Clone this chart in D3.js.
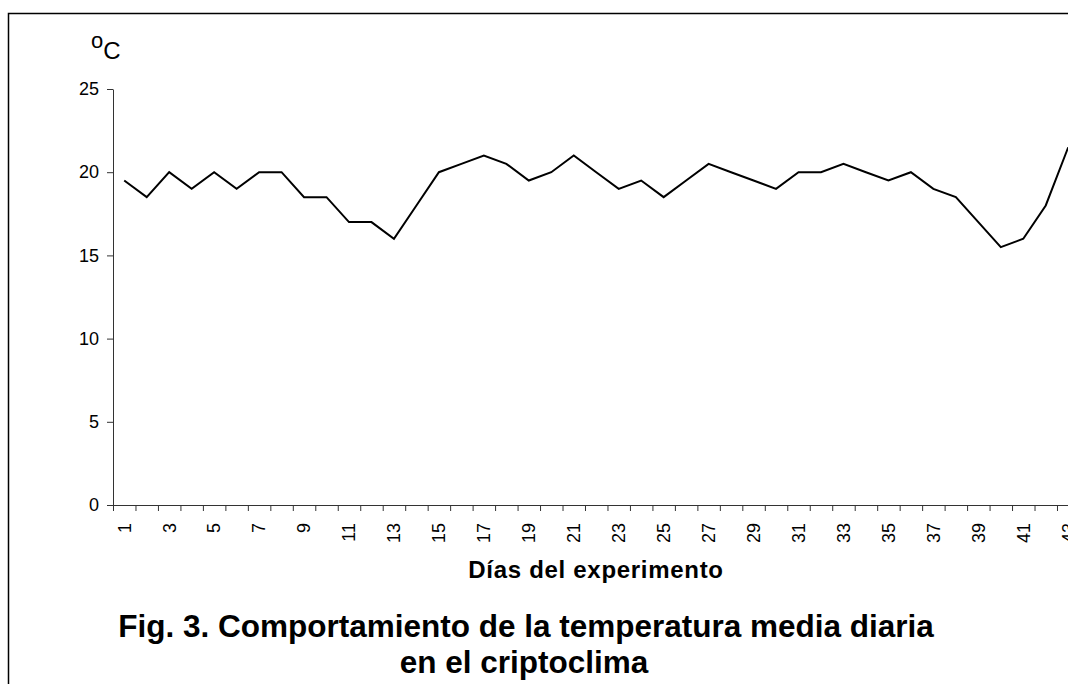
<!DOCTYPE html>
<html>
<head>
<meta charset="utf-8">
<script src="https://cdn.jsdelivr.net/npm/d3@7"></script>
<style>
  body { margin: 0; background: #fff; }
  svg { display: block; font-family: "Liberation Sans", Arial, sans-serif; }
</style>
</head>
<body>
<svg id="chart" width="1068" height="684"></svg>
<script>
// daily mean temperature, days 1..43
var days = d3.range(1, 44);
var temps = [19.5, 18.5, 20, 19, 20, 19, 20, 20, 18.5, 18.5,
             17, 17, 16, 18, 20, 20.5, 21, 20.5, 19.5, 20,
             21, 20, 19, 19.5, 18.5, 19.5, 20.5, 20, 19.5, 19,
             20, 20, 20.5, 20, 19.5, 20, 19, 18.5, 17, 15.5,
             16, 18, 21.5];
var yTicks = [0, 5, 10, 15, 20, 25];

var svg = d3.select('#chart');

// outer frame (runs off the right/bottom edge like the original)
svg.append('rect')
  .attr('x', 8.5).attr('y', 13.5)
  .attr('width', 1200).attr('height', 800)
  .attr('fill', 'none').attr('stroke', '#000').attr('stroke-width', 1.5);

var plotL = 113, plotR = 113 + 43 * 22.476, plotT = 89, plotB = 505;

var x = d3.scaleBand().domain(days).range([plotL, plotR]).padding(0);
var xb = d3.scaleLinear().domain([0, 43]).range([plotL, plotR]);
var y = d3.scaleLinear().domain([0, 25]).range([plotB, plotT]);

// y axis
var gy = svg.append('g')
  .attr('transform', 'translate(' + plotL + ',0)')
  .call(d3.axisLeft(y).tickValues(yTicks).tickSize(6).tickPadding(8).tickSizeOuter(0));
gy.select('.domain').attr('stroke', '#333');
gy.selectAll('.tick line').attr('stroke', '#333');
gy.selectAll('.tick text').attr('font-size', 18).attr('fill', '#000')
  .attr('font-family', '"Liberation Sans", Arial, sans-serif');

// x axis: tick marks between categories
var gxt = svg.append('g')
  .attr('transform', 'translate(0,' + plotB + ')')
  .call(d3.axisBottom(xb).tickValues(d3.range(0, 44)).tickSize(6).tickFormat('').tickSizeOuter(0));
gxt.select('.domain').attr('stroke', '#333');
gxt.selectAll('.tick line').attr('stroke', '#333');

// x axis labels (odd days, rotated)
var gx = svg.append('g')
  .attr('transform', 'translate(0,' + plotB + ')')
  .call(d3.axisBottom(x).tickSize(0).tickFormat(function(d) { return d % 2 ? d : ''; }));
gx.select('.domain').remove();
gx.selectAll('.tick text')
  .attr('font-size', 18).attr('fill', '#000')
  .attr('font-family', '"Liberation Sans", Arial, sans-serif')
  .attr('transform', 'rotate(-90)')
  .attr('text-anchor', 'end')
  .attr('x', -18).attr('y', 0).attr('dy', '0.35em');

// line
var line = d3.line()
  .x(function(d, i) { return x(days[i]) + x.bandwidth() / 2; })
  .y(function(d) { return y(d); });

svg.append('path')
  .datum(temps)
  .attr('d', line)
  .attr('fill', 'none')
  .attr('stroke', '#000')
  .attr('stroke-width', 2)
  .attr('stroke-linejoin', 'miter');

// unit label
var unit = svg.append('text').attr('x', 91).attr('y', 59).attr('fill', '#000');
unit.append('tspan').attr('font-size', 22).attr('dy', -11).text('o');
unit.append('tspan').attr('font-size', 24).attr('dy', 11).text('C');

// axis title
svg.append('text')
  .attr('x', 596).attr('y', 578)
  .attr('text-anchor', 'middle')
  .attr('font-size', 24).attr('font-weight', 'bold')
  .attr('letter-spacing', 0.7)
  .text('Días del experimento');

// figure caption
svg.append('text')
  .attr('x', 526).attr('y', 637)
  .attr('text-anchor', 'middle')
  .attr('font-size', 31.5).attr('font-weight', 'bold')
  .text('Fig. 3. Comportamiento de la temperatura media diaria');
svg.append('text')
  .attr('x', 524).attr('y', 673)
  .attr('text-anchor', 'middle')
  .attr('font-size', 31.5).attr('font-weight', 'bold')
  .text('en el criptoclima');
</script>
</body>
</html>
